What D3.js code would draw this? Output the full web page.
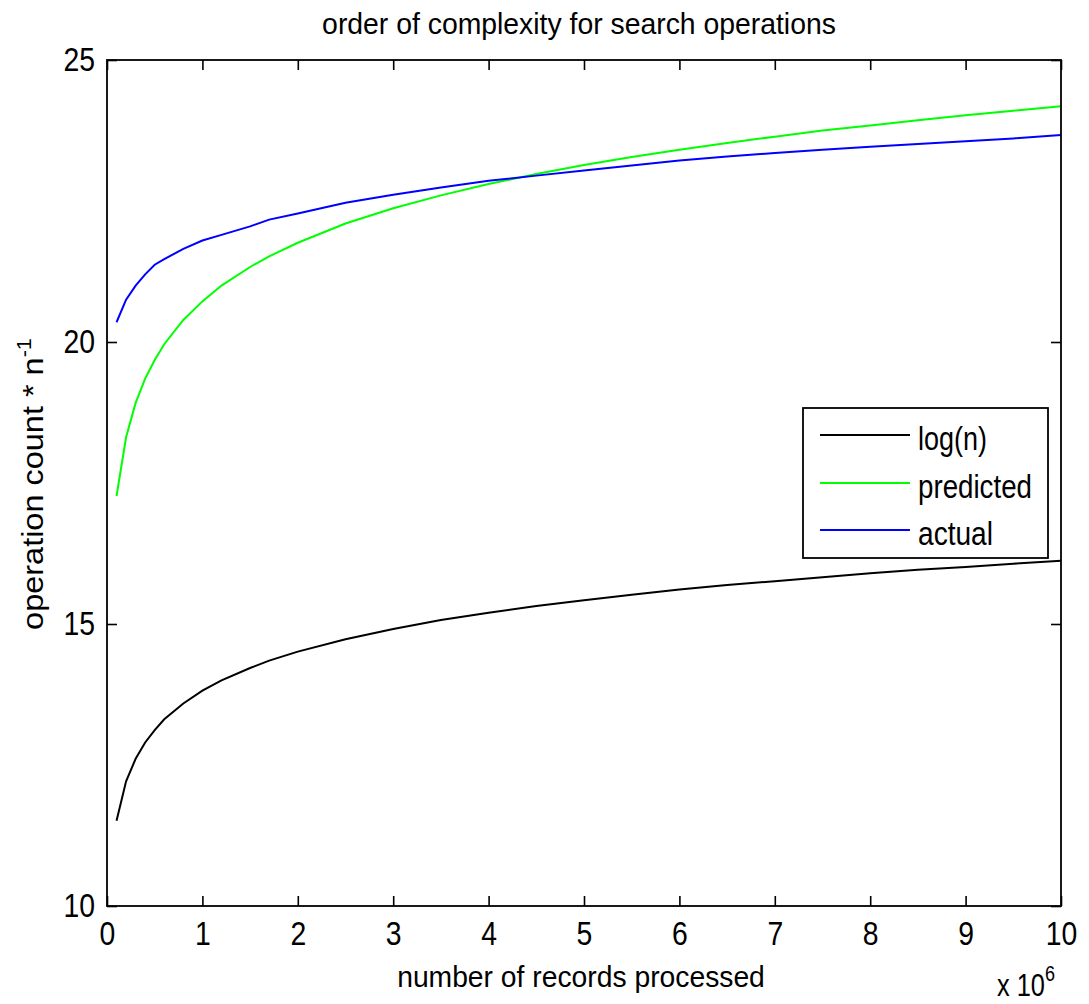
<!DOCTYPE html>
<html>
<head>
<meta charset="utf-8">
<script src="https://cdn.jsdelivr.net/npm/d3@7"></script>
<style>
  body { margin: 0; background: #fff; }
  svg { display: block; }
  text { font-family: "Liberation Sans", Arial, Helvetica, sans-serif; fill: #000; }
</style>
</head>
<body>
<svg id="chart" width="1089" height="1004"></svg>
<script>
// Number of records processed (millions)
const recordsMillions = [0.1, 0.2, 0.3, 0.4, 0.5, 0.6, 0.8, 1.0, 1.2, 1.5, 1.7, 2.0, 2.5, 3.0,
  3.5, 4.0, 4.5, 5.0, 5.5, 6.0, 6.5, 7.0, 7.5, 8.0, 8.5, 9.0, 9.5, 10.0];

// Operation count per record for each series
const logValues = [11.51, 12.21, 12.61, 12.90, 13.12, 13.31, 13.59, 13.82, 14.00, 14.22, 14.35,
  14.51, 14.73, 14.91, 15.07, 15.20, 15.32, 15.42, 15.52, 15.61, 15.69, 15.76, 15.83, 15.90,
  15.96, 16.01, 16.07, 16.12];
const predictedValues = [17.27, 18.31, 18.92, 19.35, 19.68, 19.96, 20.39, 20.72, 21.00, 21.33,
  21.52, 21.76, 22.10, 22.37, 22.60, 22.80, 22.98, 23.14, 23.28, 23.41, 23.53, 23.64, 23.75,
  23.84, 23.93, 24.02, 24.10, 24.18];
const actualValues = [20.35, 20.75, 21.00, 21.20, 21.37, 21.47, 21.65, 21.80, 21.90, 22.05,
  22.17, 22.28, 22.47, 22.61, 22.74, 22.86, 22.95, 23.04, 23.13, 23.22, 23.29, 23.35, 23.41,
  23.46, 23.51, 23.56, 23.61, 23.67];

const xTicks = [0, 1, 2, 3, 4, 5, 6, 7, 8, 9, 10];
const yTicks = [10, 15, 20, 25];
const seriesNames = ["log(n)", "predicted", "actual"];
const seriesColors = ["#000000", "#00ff00", "#0000ff"];

const titleText = "order of complexity for search operations";
const xLabelText = "number of records processed";

const svg = d3.select("#chart");
const plot = { left: 107, right: 1061, top: 60, bottom: 906 };

const x = d3.scaleLinear().domain([0, 10]).range([plot.left, plot.right]);
const y = d3.scaleLinear().domain([10, 25]).range([plot.bottom, plot.top]);

// Horizontally squeeze/stretch a text element so it spans the given width
function fitText(sel, width, tx, ty, rot) {
  const w = sel.node().getBBox().width;
  const sx = width / w;
  sel.attr("transform", `translate(${tx},${ty})${rot ? ` rotate(${rot})` : ""} scale(${sx},1)`);
}

const tickFont = 33, tickScale = 0.86, tickLen = 10;

// Axes with inward ticks on all four sides
const axisStyle = g => {
  g.select(".domain").remove();
  g.selectAll(".tick line").attr("stroke", "#000").attr("stroke-width", 1.6);
  g.selectAll("text").attr("font-size", tickFont).attr("font-family", null).attr("fill", "#000");
};

svg.append("g")
  .attr("transform", `translate(0,${plot.bottom})`)
  .call(d3.axisBottom(x).tickValues(xTicks).tickSizeInner(-tickLen).tickSizeOuter(0).tickPadding(16))
  .call(axisStyle)
  .call(g => g.selectAll("text").attr("transform", `scale(${tickScale},1)`));

svg.append("g")
  .attr("transform", `translate(0,${plot.top})`)
  .call(d3.axisTop(x).tickValues(xTicks).tickSizeInner(-tickLen).tickSizeOuter(0).tickFormat(""))
  .call(axisStyle);

svg.append("g")
  .attr("transform", `translate(${plot.left},0)`)
  .call(d3.axisLeft(y).tickValues(yTicks).tickSizeInner(-tickLen).tickSizeOuter(0).tickPadding(12))
  .call(axisStyle)
  .call(g => g.selectAll("text").attr("x", 0).attr("transform", `translate(-12,0) scale(${tickScale},1)`));

svg.append("g")
  .attr("transform", `translate(${plot.right},0)`)
  .call(d3.axisRight(y).tickValues(yTicks).tickSizeInner(-tickLen).tickSizeOuter(0).tickFormat(""))
  .call(axisStyle);

// Series lines
const series = [logValues, predictedValues, actualValues];
const line = d3.line().x(d => x(d[0])).y(d => y(d[1]));
series.forEach((vals, i) => {
  svg.append("path")
    .datum(recordsMillions.map((r, k) => [r, vals[k]]))
    .attr("fill", "none")
    .attr("stroke", seriesColors[i])
    .attr("stroke-width", 2)
    .attr("d", line);
});

// Plot box
svg.append("rect")
  .attr("x", plot.left).attr("y", plot.top)
  .attr("width", plot.right - plot.left).attr("height", plot.bottom - plot.top)
  .attr("fill", "none").attr("stroke", "#000").attr("stroke-width", 1.8);

// Legend
const legend = svg.append("g");
legend.append("rect")
  .attr("x", 803).attr("y", 408).attr("width", 245).attr("height", 150)
  .attr("fill", "#fff").attr("stroke", "#000").attr("stroke-width", 1.8);
const legendRows = [435, 483, 530];
const legendWidths = [69, 114, 75];
seriesNames.forEach((name, i) => {
  legend.append("line")
    .attr("x1", 820).attr("x2", 910)
    .attr("y1", legendRows[i]).attr("y2", legendRows[i])
    .attr("stroke", seriesColors[i]).attr("stroke-width", 2);
  const t = legend.append("text")
    .attr("font-size", 34).attr("text-anchor", "start")
    .text(name);
  fitText(t, legendWidths[i], 918, legendRows[i] + 15);
});

// Title
const title = svg.append("text").attr("font-size", 29).attr("text-anchor", "middle").text(titleText);
fitText(title, 514, 579, 34);

// X axis label
const xLabel = svg.append("text").attr("font-size", 29).attr("text-anchor", "middle").text(xLabelText);
fitText(xLabel, 368, 581, 987);

// Y axis label with superscript exponent
const yLabel = svg.append("text").attr("font-size", 30).attr("text-anchor", "middle");
yLabel.append("tspan").text("operation count * n");
yLabel.append("tspan").attr("font-size", 20).attr("dy", -12).text("-1");
fitText(yLabel, 292, 43, 484, -90);

// Axis multiplier
const mult = svg.append("text").attr("font-size", 31).attr("text-anchor", "start");
mult.append("tspan").text("x 10");
mult.append("tspan").attr("font-size", 22).attr("dy", -15).text("6");
fitText(mult, 58, 997, 996);
</script>
</body>
</html>
